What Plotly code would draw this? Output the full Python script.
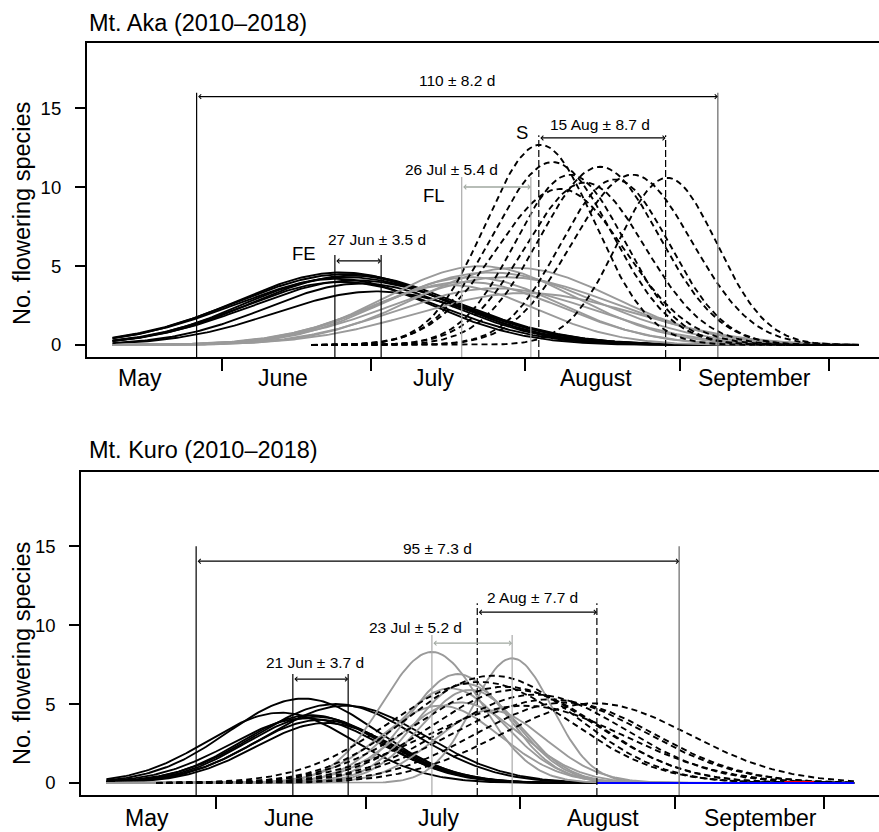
import numpy as np
import plotly.graph_objects as go

FONT = "Liberation Sans, Arial, Helvetica, sans-serif"

# ---------------- data ----------------
# day-of-year limits of the fitted curves
curve_start = 130
curve_end = 280
aka_s_start = 170
kuro_s_start = 140

# Mt. Aka: FE (early, black solid), FL (late, grey solid), S (snowbed, black dashed)
aka_fe_peak = [176, 177, 178, 175, 179, 176, 180, 177, 183]
aka_fe_height = [4.6, 4.5, 4.4, 4.2, 4.1, 4.0, 3.9, 4.3, 3.4]
aka_fe_sd = [21, 22, 20, 19, 21, 20, 19, 22, 20]

aka_fl_peak = [204, 211, 206, 202, 209, 201, 198, 207, 213]
aka_fl_height = [5.0, 4.9, 4.6, 4.3, 4.3, 4.0, 3.8, 3.6, 3.3]
aka_fl_sd = [19, 20, 21, 18, 22, 19, 17, 20, 22]

aka_s_peak = [216, 218.5, 228, 222, 234.5, 241.5, 225, 231, 220]
aka_s_height = [12.7, 11.6, 11.3, 10.8, 10.8, 10.6, 10.3, 10.5, 9.9]
aka_s_sd = [11, 12, 12, 11, 12, 10, 12, 11, 13]

# Mt. Kuro
kuro_fe_peak = [169.5, 176, 178, 165, 171, 172, 173, 174, 170]
kuro_fe_height = [5.35, 5.0, 4.9, 4.45, 4.3, 4.2, 4.0, 3.8, 4.1]
kuro_fe_sd = [15, 16, 16, 14.5, 14, 14, 14, 14, 15]

kuro_fl_peak = [195.3, 211.4, 200.5, 202, 199, 203, 201, 207, 197]
kuro_fl_height = [8.3, 7.9, 6.9, 6.3, 6.0, 5.9, 5.1, 4.6, 4.9]
kuro_fl_sd = [10, 8, 10, 10, 11, 10, 12, 11, 12]

kuro_s_peak = [207.5, 205, 210, 212, 216, 219, 222, 228, 214]
kuro_s_height = [6.8, 6.4, 6.1, 5.9, 5.6, 5.3, 5.1, 5.05, 4.9]
kuro_s_sd = [17, 18, 18, 17, 18, 19, 18, 19, 20]

kuro_blue_span = [228.4, 280]
kuro_red_span = [266, 272]

# reference spans (day of year) and labels
aka_season = [146.9, 251.7]
aka_fe_span = [174.7, 184.0]
aka_fl_span = [200.2, 214.1]
aka_s_span = [215.7, 241.2]
aka_labels = ["110 ± 8.2 d", "27 Jun ± 3.5 d", "26 Jul ± 5.4 d", "15 Aug ± 8.7 d"]

kuro_season = [148.0, 244.9]
kuro_fe_span = [167.4, 178.5]
kuro_fl_span = [195.3, 211.4]
kuro_s_span = [204.4, 228.4]
kuro_labels = ["95 ± 7.3 d", "21 Jun ± 3.7 d", "23 Jul ± 5.2 d", "2 Aug ± 7.7 d"]

month_names = ["May", "June", "July", "August", "September"]
aka_month_pos = [135.5, 164.3, 194.6, 227.2, 259.0]
kuro_month_pos = [138.2, 166.6, 196.7, 229.6, 261.3]
month_bounds = [152, 182, 213, 244, 274]
y_ticks = [0, 5, 10, 15]

# ---------------- figure ----------------
W, H = 879, 832
fig = go.Figure()


def add_group(peaks, heights, sds, start, color, dash, xa, ya, width=1.9):
    days = np.arange(start, curve_end + 0.25, 0.5)
    for p, h, s in zip(peaks, heights, sds):
        yv = h * np.exp(-((days - p) ** 2) / (2.0 * s * s))
        fig.add_trace(go.Scatter(x=days, y=yv, mode="lines", xaxis=xa, yaxis=ya,
                                 line=dict(color=color, width=width, dash=dash),
                                 showlegend=False, hoverinfo="skip"))


add_group(aka_fe_peak, aka_fe_height, aka_fe_sd, curve_start, "black", "solid", "x", "y")
add_group(aka_fl_peak, aka_fl_height, aka_fl_sd, curve_start, "#9a9a9a", "solid", "x", "y")
add_group(aka_s_peak, aka_s_height, aka_s_sd, aka_s_start, "black", "6px,4px", "x", "y")

add_group(kuro_fe_peak, kuro_fe_height, kuro_fe_sd, curve_start, "black", "solid", "x2", "y2")
add_group(kuro_fl_peak, kuro_fl_height, kuro_fl_sd, curve_start, "#9a9a9a", "solid", "x2", "y2")
add_group(kuro_s_peak, kuro_s_height, kuro_s_sd, kuro_s_start, "black", "6px,4px", "x2", "y2")

fig.add_trace(go.Scatter(x=kuro_red_span, y=[0.08, 0.08], mode="lines", xaxis="x2", yaxis="y2",
                         line=dict(color="red", width=1.5), showlegend=False, hoverinfo="skip"))
fig.add_trace(go.Scatter(x=kuro_blue_span, y=[0, 0], mode="lines", xaxis="x2", yaxis="y2",
                         line=dict(color="#0000ff", width=2), showlegend=False, hoverinfo="skip"))

shapes = []
annotations = []


def vline(xref, yref, x, ytop, ybot, color, dash="solid", width=1.2):
    shapes.append(dict(type="line", xref=xref, yref=yref, x0=x, x1=x, y0=ybot, y1=ytop,
                       line=dict(color=color, width=width, dash=dash), layer="above"))


def arrow(xref, yref, x0, x1, y, color):
    annotations.append(dict(x=x1, y=y, ax=x0, ay=y, xref=xref, yref=yref, axref=xref, ayref=yref,
                            text="", showarrow=True, arrowhead=4, startarrowhead=4,
                            arrowside="end+start", arrowsize=0.7, startarrowsize=0.7,
                            arrowwidth=1.3, arrowcolor=color, standoff=0, startstandoff=0))


def label(xref, yref, x, y, text, size=15.5):
    annotations.append(dict(x=x, y=y, xref=xref, yref=yref, text=text, showarrow=False,
                            font=dict(family=FONT, size=size, color="black"),
                            xanchor="center", yanchor="middle"))


def panel(xref, yref, ybot, season, fe, fl, s, labels, pos, letters):
    vline(xref, yref, season[0], pos["season_top"], ybot, "black")
    vline(xref, yref, season[1], pos["season_top"], ybot, "#666666")
    arrow(xref, yref, season[0], season[1], pos["season_arrow"], "black")
    label(xref, yref, (season[0] + season[1]) / 2, pos["season_text"], labels[0])

    for x in fe:
        vline(xref, yref, x, pos["fe_top"], ybot, "black")
    arrow(xref, yref, fe[0], fe[1], pos["fe_arrow"], "black")
    label(xref, yref, pos["fe_text_x"], pos["fe_text"], labels[1])

    for x in fl:
        vline(xref, yref, x, pos["fl_top"], ybot, "#aaaaaa")
    arrow(xref, yref, fl[0], fl[1], pos["fl_arrow"], "#a0a8a0")
    label(xref, yref, pos["fl_text_x"], pos["fl_text"], labels[2])

    for x in s:
        vline(xref, yref, x, pos["s_top"], ybot, "black", dash="7px,3px")
    arrow(xref, yref, s[0], s[1], pos["s_arrow"], "black")
    label(xref, yref, pos["s_text_x"], pos["s_text"], labels[3])

    if letters:
        for (lx, ly, lt) in letters:
            label(xref, yref, lx, ly, lt, size=18.5)


panel("x", "y", -0.76, aka_season, aka_fe_span, aka_fl_span, aka_s_span, aka_labels,
      dict(season_top=16.0, season_arrow=15.75, season_text=16.8,
           fe_top=5.7, fe_arrow=5.33, fe_text_x=183.2, fe_text=6.66,
           fl_top=10.65, fl_arrow=10.02, fl_text_x=198.2, fl_text=11.1,
           s_top=13.3, s_arrow=13.13, s_text_x=228.0, s_text=14.0),
      [(168.5, 5.83, "FE"), (194.6, 9.45, "FL"), (212.3, 13.5, "S")])

panel("x2", "y2", -0.76, kuro_season, kuro_fe_span, kuro_fl_span, kuro_s_span, kuro_labels,
      dict(season_top=15.0, season_arrow=14.05, season_text=14.87,
           fe_top=6.9, fe_arrow=6.58, fe_text_x=171.9, fe_text=7.66,
           fl_top=9.37, fl_arrow=8.86, fl_text_x=192.1, fl_text=9.87,
           s_top=11.39, s_arrow=10.82, s_text_x=215.5, s_text=11.77),
      None)

# month labels
for name, p in zip(month_names, aka_month_pos):
    annotations.append(dict(x=p, y=1 - 378 / H, xref="x", yref="paper", text=name, showarrow=False,
                            font=dict(family=FONT, size=23, color="black"),
                            xanchor="center", yanchor="middle"))
for name, p in zip(month_names, kuro_month_pos):
    annotations.append(dict(x=p, y=1 - 818 / H, xref="x2", yref="paper", text=name, showarrow=False,
                            font=dict(family=FONT, size=23, color="black"),
                            xanchor="center", yanchor="middle"))

# panel titles
annotations.append(dict(x=87 / W, y=1 - 23 / H, xref="paper", yref="paper", text="Mt. Aka (2010–2018)",
                        showarrow=False, font=dict(family=FONT, size=23.5, color="black"),
                        xanchor="left", yanchor="middle"))
annotations.append(dict(x=87 / W, y=1 - 450 / H, xref="paper", yref="paper", text="Mt. Kuro (2010–2018)",
                        showarrow=False, font=dict(family=FONT, size=23.5, color="black"),
                        xanchor="left", yanchor="middle"))
# y titles
for yc in (214, 654):
    annotations.append(dict(x=22 / W, y=1 - yc / H, xref="paper", yref="paper", text="No. flowering species",
                            showarrow=False, textangle=-90, font=dict(family=FONT, size=23.5, color="black"),
                            xanchor="center", yanchor="middle"))

xcommon = dict(tickmode="array", tickvals=month_bounds, showticklabels=False, ticks="outside",
               ticklen=12, tickwidth=1.5, tickcolor="black", showline=True, linecolor="black",
               linewidth=1.6, mirror=True, showgrid=False, zeroline=False, automargin=False)
ycommon = dict(tickmode="array", tickvals=y_ticks, ticktext=[str(v) for v in y_ticks], ticks="outside",
               ticklen=10, tickwidth=1.5, tickcolor="black", showline=True, linecolor="black",
               linewidth=1.6, mirror=False, showgrid=False, zeroline=False, automargin=False,
               tickfont=dict(family=FONT, size=18.5, color="black"), ticklabelstandoff=10)

fig.update_layout(
    width=W, height=H,
    margin=dict(l=0, r=0, t=0, b=0),
    plot_bgcolor="white", paper_bgcolor="white",
    font=dict(family=FONT, color="black"),
    xaxis=dict(domain=[86.7 / W, 1], range=[124.8, 284.1], anchor="y", **xcommon),
    yaxis=dict(domain=[1 - 357 / H, 1 - 43 / H], range=[-0.76, 19.15], anchor="x", **ycommon),
    xaxis2=dict(domain=[81 / W, 1], range=[124.9, 285.0], anchor="y2", **xcommon),
    yaxis2=dict(domain=[1 - 795 / H, 1 - 472 / H], range=[-0.76, 19.7], anchor="x2", **ycommon),
    shapes=shapes,
    annotations=annotations,
    showlegend=False,
)

fig.write_html("out.html")
